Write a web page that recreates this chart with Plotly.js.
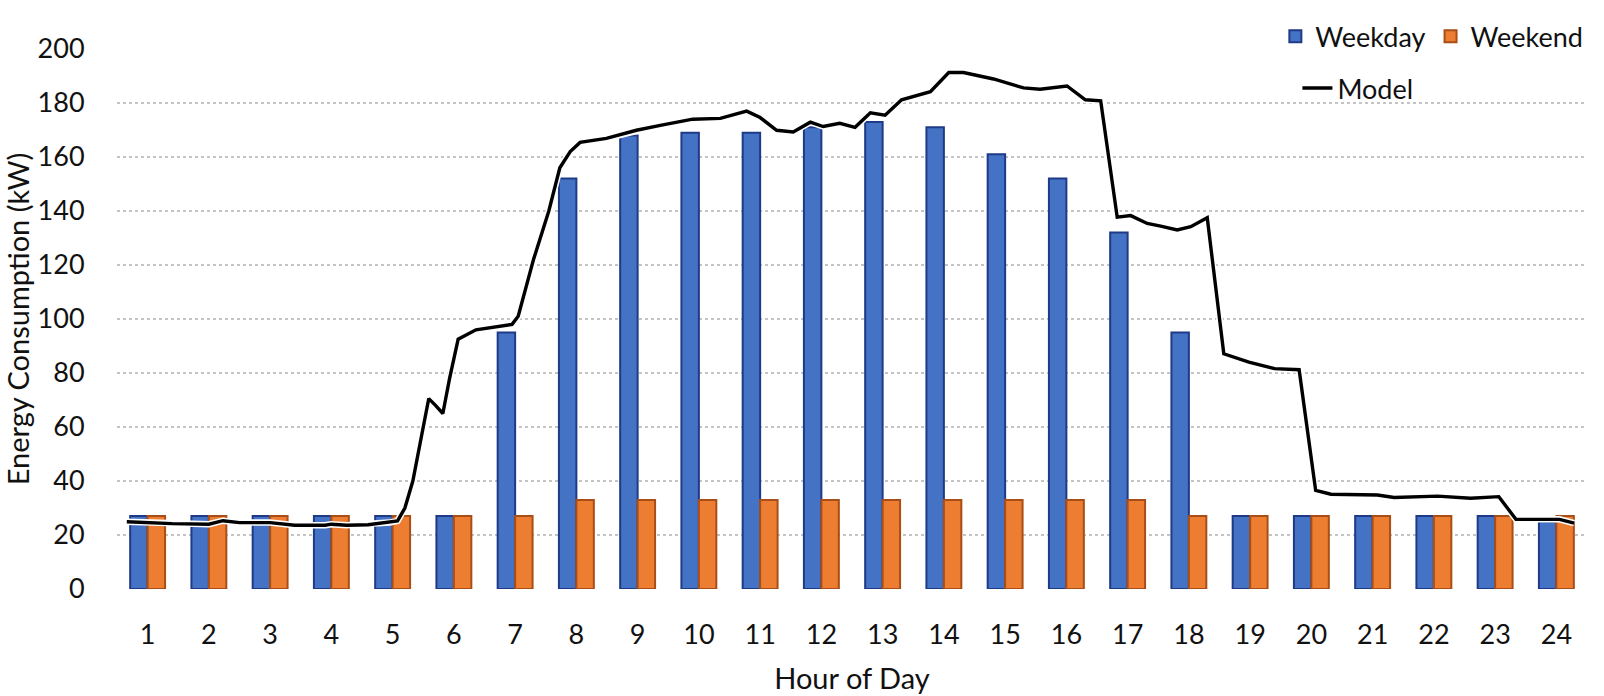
<!DOCTYPE html>
<html>
<head>
<meta charset="utf-8">
<script src="https://cdn.plot.ly/plotly-3.0.1.min.js"></script>
<style>html,body{margin:0;padding:0;background:#fff;}#chart{width:1604px;height:696px;}</style>
</head>
<body>
<div id="chart"></div>
<script>
const hours = [1,2,3,4,5,6,7,8,9,10,11,12,13,14,15,16,17,18,19,20,21,22,23,24];
const weekday = [27,27,27,27,27,27,95,152,168,169,169,171,173,171,161,152,132,95,27,27,27,27,27,25];
const weekend = [27,27,27,27,27,27,27,33,33,33,33,33,33,33,33,33,33,27,27,27,27,27,27,27];

const modelHour = [0.66,1.4,2.0,2.23,2.5,3.0,3.4,3.9,4.0,4.25,4.6,4.95,5.08,5.2,5.33,5.5,5.59,5.7,5.82,5.93,6.07,6.36,6.7,6.95,7.05,7.3,7.55,7.73,7.9,8.06,8.49,8.98,9.37,9.9,10.35,10.78,11.0,11.27,11.54,11.82,12.03,12.3,12.55,12.8,13.04,13.31,13.78,14.08,14.32,14.81,15.3,15.57,16.01,16.31,16.56,16.83,17.05,17.32,17.54,17.81,18.03,18.3,18.57,18.98,19.4,19.8,20.07,20.32,21.08,21.35,22.06,22.6,23.06,23.34,24.05,24.29];
const modelValue = [24.9,24.2,24.0,25.3,24.6,24.6,23.6,23.6,24.0,23.6,23.8,24.6,25.2,30,40,60,70.5,68,65,78,92.5,96,97,98,101,122,140,156,162,165.4,166.9,169.9,171.7,174,174.3,177,174.6,169.9,169.3,172.9,171.3,172.5,171,176.4,175.5,181.2,184.2,191.3,191.3,188.9,185.6,185.1,186.3,181.2,180.8,137.7,138.3,135.4,134.4,133,134.2,137.5,87.1,84,81.6,81.2,36.5,35.1,34.8,33.9,34.4,33.6,34.2,25.8,25.8,24.4];

const FONT = 'Lato, "Open Sans", sans-serif';
const INK = '#111111';

const traces = [
  {type:'bar', name:'Weekday', x:hours, y:weekday,
   marker:{color:'#4472C4', line:{color:'#1F3A86', width:2}}, legend:'legend'},
  {type:'bar', name:'Weekend', x:hours, y:weekend,
   marker:{color:'#ED7D31', line:{color:'#A84E16', width:2}}, legend:'legend'},
  {type:'scatter', mode:'lines', x:modelHour, y:modelValue, showlegend:false,
   line:{color:'#ffffff', width:6.5}, hoverinfo:'skip'},
  {type:'scatter', mode:'lines', name:'Model', x:modelHour, y:modelValue,
   line:{color:'#000000', width:3.4}, legend:'legend2'}
];

const layout = {
  width:1604, height:696,
  margin:{l:117, r:17, t:29, b:107},
  paper_bgcolor:'#ffffff', plot_bgcolor:'#ffffff',
  font:{family:FONT, size:27, color:INK},
  barmode:'group', bargap:0.43, bargroupgap:0,
  xaxis:{range:[0.5,24.5], tickvals:hours, ticktext:hours.map(String),
    showgrid:false, zeroline:false, showline:false,
    ticks:'outside', ticklen:22, tickcolor:'rgba(0,0,0,0)',
    tickfont:{family:FONT, size:27, color:INK},
    title:{text:'Hour of Day', font:{family:FONT, size:29, color:INK}, standoff:19}},
  yaxis:{range:[0,200], dtick:20, tick0:0,
    showgrid:true, gridcolor:'#c4c4c4', griddash:'dot', gridwidth:1.2,
    zeroline:false, showline:false,
    ticks:'outside', ticklen:26, tickcolor:'rgba(0,0,0,0)',
    tickfont:{family:FONT, size:27, color:INK},
    title:{text:'Energy Consumption (kW)', font:{family:FONT, size:29, color:INK}, standoff:6}},
  legend:{orientation:'h', x:0.788, xanchor:'left', y:1.023, yanchor:'middle',
    bgcolor:'rgba(0,0,0,0)', font:{family:FONT, size:27, color:INK},
    traceorder:'normal'},
  legend2:{orientation:'h', x:0.803, xanchor:'left', y:0.927, yanchor:'middle',
    bgcolor:'rgba(0,0,0,0)', font:{family:FONT, size:27, color:INK}},
  showlegend:true
};

Plotly.newPlot('chart', traces, layout, {displayModeBar:false, staticPlot:true});
</script>
</body>
</html>
